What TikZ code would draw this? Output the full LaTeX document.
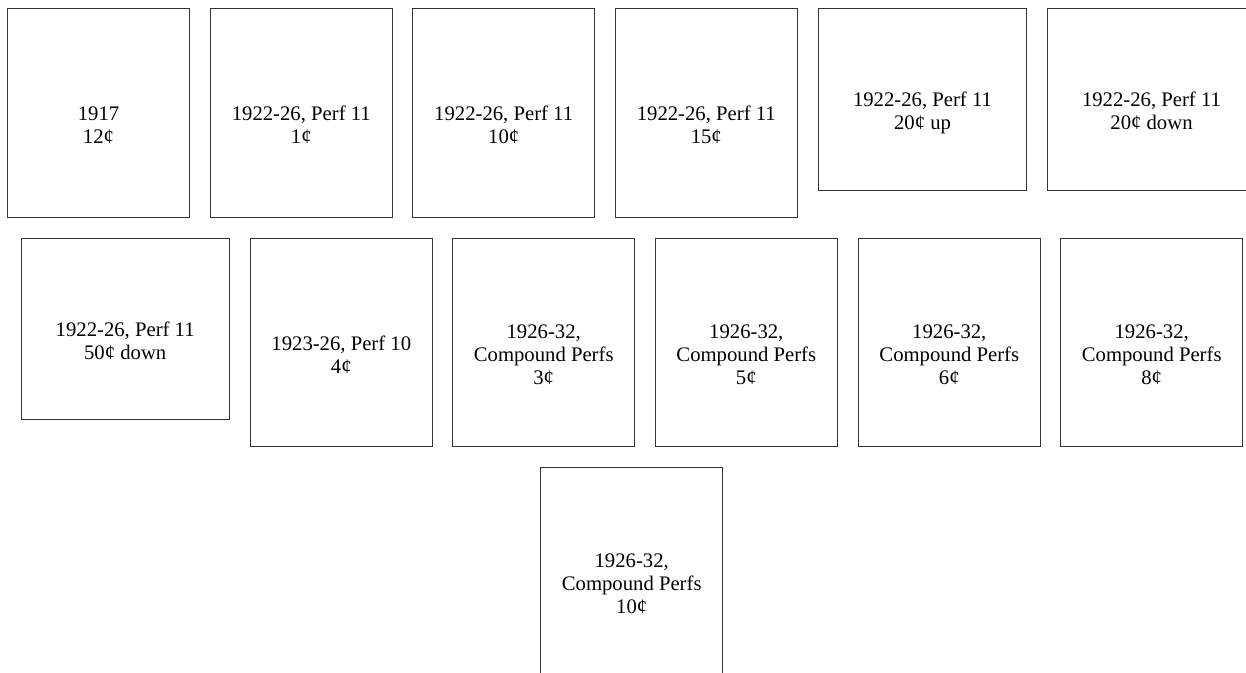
\documentclass[tikz,border=0pt]{standalone}
\usepackage{fontspec}
\setmainfont{Liberation Serif}
\usetikzlibrary{calc}
\begin{document}
\begin{tikzpicture}[x=1pt,y=-1pt,
  stampbox/.style={draw=black!80,line width=0.9pt,rectangle,inner sep=0pt,outer sep=0pt,
    minimum width=182pt,minimum height=208.5pt},
  widebox/.style={stampbox,minimum width=208.4pt,minimum height=182pt},
  stamplabel/.style={align=center,inner sep=0pt,anchor=north,
    font={\fontsize{20.7}{23}\selectfont}}
]
\useasboundingbox (0,0) rectangle (1246,672);
% row 1
\node[stampbox] (b1) at (98.5,112.75) {};
\node[stampbox] (b2) at (301.3,112.75) {};
\node[stampbox] (b3) at (503.7,112.75) {};
\node[stampbox] (b4) at (706.3,112.75) {};
\node[widebox] (b5) at (922.5,99.3) {};
\node[widebox] (b6) at (1151.5,99.3) {};
% row 2
\node[widebox,minimum height=181pt,minimum width=208.3pt] (b7) at (125.2,328.8) {};
\node[stampbox] (b8) at (341.3,342.5) {};
\node[stampbox] (b9) at (543.7,342.5) {};
\node[stampbox] (b10) at (746.3,342.5) {};
\node[stampbox] (b11) at (949.3,342.5) {};
\node[stampbox] (b12) at (1151.7,342.5) {};
% row 3
\node[stampbox] (b13) at (631.7,571.5) {};
% labels
\node[stamplabel] (t1) at ($(b1.center)+(0,-7.7)$) {\rule{0pt}{15pt}1917\\12¢};
\node[stamplabel] (t2) at ($(b2.center)+(0,-7.7)$) {\rule{0pt}{15pt}1922-26, Perf 11\\1¢};
\node[stamplabel] (t3) at ($(b3.center)+(0,-7.7)$) {\rule{0pt}{15pt}1922-26, Perf 11\\10¢};
\node[stamplabel] (t4) at ($(b4.center)+(0,-7.7)$) {\rule{0pt}{15pt}1922-26, Perf 11\\15¢};
\node[stamplabel] (t5) at ($(b5.center)+(0,-7.7)$) {\rule{0pt}{15pt}1922-26, Perf 11\\20¢ up};
\node[stamplabel] (t6) at ($(b6.center)+(0,-7.7)$) {\rule{0pt}{15pt}1922-26, Perf 11\\20¢ down};
\node[stamplabel] (t7) at ($(b7.center)+(0,-7.7)$) {\rule{0pt}{15pt}1922-26, Perf 11\\50¢ down};
\node[stamplabel] (t8) at ($(b8.center)+(0,-7.7)$) {\rule{0pt}{15pt}1923-26, Perf 10\\4¢};
\node[stamplabel] (t9) at ($(b9.center)+(0,-19.2)$) {\rule{0pt}{15pt}1926-32,\\Compound Perfs\\3¢};
\node[stamplabel] (t10) at ($(b10.center)+(0,-19.2)$) {\rule{0pt}{15pt}1926-32,\\Compound Perfs\\5¢};
\node[stamplabel] (t11) at ($(b11.center)+(0,-19.2)$) {\rule{0pt}{15pt}1926-32,\\Compound Perfs\\6¢};
\node[stamplabel] (t12) at ($(b12.center)+(0,-19.2)$) {\rule{0pt}{15pt}1926-32,\\Compound Perfs\\8¢};
\node[stamplabel] (t13) at ($(b13.center)+(0,-19.2)$) {\rule{0pt}{15pt}1926-32,\\Compound Perfs\\10¢};
\end{tikzpicture}
\end{document}
